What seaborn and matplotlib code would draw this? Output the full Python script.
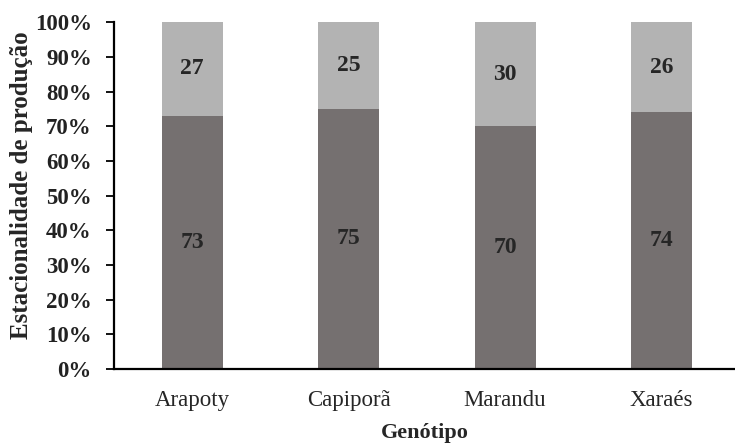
import matplotlib
matplotlib.use('agg')
import numpy as np
import pandas as pd
import matplotlib.pyplot as plt
import seaborn as sns
from matplotlib.ticker import FixedLocator

sns.set_style('white')
plt.rcParams['font.family'] = ['Liberation Serif', 'DejaVu Serif']

# data
genotipos = ['Arapoty', 'Capiporã', 'Marandu', 'Xaraés']
inferior = [73, 75, 70, 74]
superior = [27, 25, 30, 26]

df = pd.DataFrame({'genotipo': genotipos, 'inferior': inferior, 'superior': superior})
df['total'] = df['inferior'] + df['superior']

fig = plt.figure(figsize=(7.35, 4.43), dpi=100)
ax = fig.add_axes([0.155, 0.167, 0.845, 0.783])

# stacked bars: total first (light), then lower part (dark) on top of it
sns.barplot(data=df, x='genotipo', y='total', color='#b3b3b3', saturation=1, width=0.39,
            linewidth=0, edgecolor='none', ax=ax)
sns.barplot(data=df, x='genotipo', y='inferior', color='#757070', saturation=1, width=0.39,
            linewidth=0, edgecolor='none', ax=ax)

for i, (lo, hi) in enumerate(zip(df['inferior'], df['superior'])):
    ax.text(i, lo / 2, str(lo), ha='center', va='center', fontsize=17, fontweight='bold')
    ax.text(i, lo + hi / 2, str(hi), ha='center', va='center', fontsize=17, fontweight='bold')

ax.set_xlim(-0.5, 3.47)
ax.set_ylim(0, 100)
ax.set_yticks(np.arange(0, 101, 10))
ax.set_yticklabels([f'{v}%' for v in range(0, 101, 10)], fontsize=16.5, fontweight='bold', color='#222222')
ax.set_xticks(range(len(genotipos)))
ax.set_xticklabels(genotipos, fontsize=16.5)
ax.xaxis.set_minor_locator(FixedLocator(np.arange(-0.5, 3.5, 1)))
ax.tick_params(axis='x', which='major', length=0, pad=15)
ax.tick_params(axis='x', which='minor', length=6, width=1.3, color='black', direction='out')
ax.tick_params(axis='y', length=6, width=1.3, color='black', direction='out', left=True, pad=10)

for s in ['top', 'right']:
    ax.spines[s].set_visible(False)
for s in ['left', 'bottom']:
    ax.spines[s].set_color('black')
    ax.spines[s].set_linewidth(1.6)

ax.set_xlabel('Genótipo', fontsize=16, fontweight='bold', labelpad=9)
ax.set_ylabel('Estacionalidade de produção', fontsize=18, fontweight='bold')
ax.yaxis.set_label_coords(-0.13, 0.53)

fig.savefig('out.png', dpi=100)
